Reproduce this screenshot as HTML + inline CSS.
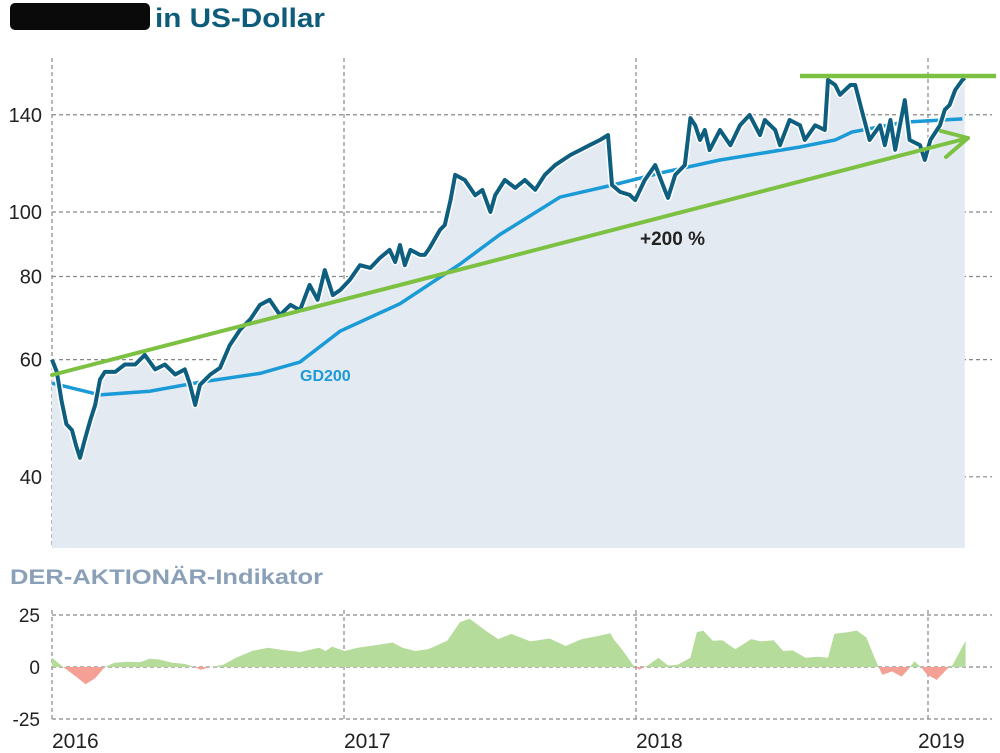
<!DOCTYPE html>
<html><head><meta charset="utf-8"><style>
body{margin:0;background:#fff;width:1000px;height:753px;overflow:hidden;font-family:"Liberation Sans",sans-serif}
svg{display:block}
</style></head><body>
<svg id="c" width="1000" height="753" viewBox="0 0 1000 753">
<rect x="10" y="3" width="140" height="27" rx="5" fill="#0a0a0a"/>
<text x="155" y="27" font-size="27" font-weight="bold" fill="#0d5d7a" textLength="170" lengthAdjust="spacingAndGlyphs">in US-Dollar</text>
<text x="10" y="584" font-size="21" font-weight="bold" fill="#8aa0b8" textLength="313" lengthAdjust="spacingAndGlyphs">DER-AKTIONÄR-Indikator</text>
<g id="g"></g>
</svg>
<script>
// days since 2016-01-01
const priceDays=[0,6,12,18,25,30,35,41,48,54,60,66,79,91,104,116,129,141,154,166,172,179,185,198,210,222,235,248,260,272,285,298,310,322,332,341,351,360,372,385,398,410,422,429,435,441,448,460,466,472,485,491,498,504,516,529,538,548,554,566,579,591,604,616,629,648,660,672,685,695,700,710,722,729,741,754,766,770,779,791,798,804,810,816,822,835,848,860,872,885,891,904,910,922,935,941,954,966,970,979,985,998,1004,1012,1022,1035,1041,1048,1054,1066,1072,1085,1091,1098,1110,1116,1122,1129,1138,1141];
const priceValues=[60,57.5,52,48,47,44.6,42.7,45.5,48.7,51.3,56,57.5,57.5,59,59,61,58,59,57,58,55.3,51.3,55,57,58.3,63,66.5,69,72.5,73.8,70,72.5,71.2,77.7,73.8,81.8,75,76.3,79,83.2,82.4,85.3,87.7,84.1,89.2,83.2,87.7,86.2,86.2,88.3,94,95.6,104,113.7,111.7,106,107.9,100,106,111.7,108.7,111.7,108,113.7,117.6,121.8,123.9,126,128.3,130.5,109.8,107.2,106.1,104.2,111.7,117.6,107.9,105,113.7,117.6,138.4,135,128.3,132.8,123.9,132.8,126,135,139.9,130.5,137.5,132.8,126,137.5,135,128.3,135,132.8,157.9,155.2,150,155.2,155.2,142.4,128.3,135,126,137.5,124,147.3,128.3,126,119.7,128.3,135,142.4,144.8,152.5,157.9,159];
const gdDays=[0,60,122,185,260,310,360,435,510,560,635,701,760,835,935,979,1000,1066,1138];
const gdValues=[55.3,53.1,53.8,55.5,57.2,59.5,66.2,72.8,83.5,92.5,105.3,109.8,114.4,119.7,125.2,128.3,131.9,136.5,138];
const indDays=[0,14,30,42,54,66,78,94,110,122,134,150,166,178,186,198,214,230,250,270,286,310,334,342,350,366,382,414,426,438,454,470,494,510,522,542,558,574,598,622,642,662,678,698,702,714,726,734,746,758,770,782,798,806,814,826,838,854,874,886,902,914,926,942,958,970,978,994,1006,1018,1030,1038,1050,1062,1070,1078,1086,1094,1106,1118,1126,1142];
const indValues=[4.4,0,-4.6,-8.3,-5.4,0,2,2.5,2.3,4,3.6,2,1.5,0,-1.3,0,1.1,4.4,7.7,9.3,8.3,7.2,9.3,7.7,9.8,7.7,9.3,11,11.8,9.3,7.7,8.5,12.6,21.6,23.2,17.5,13.4,15.9,12.3,13.7,10.1,13.4,14.5,16.2,13.4,7.7,1.1,-1.3,1.1,4.4,0.7,1.1,4.4,16.7,17.5,12.6,12.9,8.5,13.4,12.3,12.9,7.7,8,4.4,4.9,4.4,15.9,16.7,17.5,14.2,2.8,-3.8,-2.1,-4.6,-1.3,2.8,0,-3.8,-6.2,-1.3,1.1,12.6];
const priceTicks=[40,60,80,100,140];
const indTicks=[25,0,-25];
const yearLabels=["2016","2017","2018","2019"];

const NS="http://www.w3.org/2000/svg";
const g=document.getElementById('g');
const X=d=>52+d*0.8;
const Y=v=>212-289*Math.log(v/100);
const YI=v=>667-v*2.08;
function mk(t,a,p){const e=document.createElementNS(NS,t);for(const k in a)e.setAttribute(k,a[k]);(p||g).appendChild(e);return e;}
priceTicks.forEach(v=>{
 const l=mk('line',{x1:52,x2:992,y1:Y(v),y2:Y(v),stroke:'#888','stroke-width':1.2,'stroke-dasharray':'4 3'});
 
 
 const t=mk('text',{x:42,y:Y(v)+7,'font-size':20,'text-anchor':'end',fill:'#222'});t.textContent=v;
 
 
});
yearLabels.forEach((s,i)=>{
 const x=X(i*365);
 const l=mk('line',{x1:x,x2:x,y1:58,y2:548,stroke:'#888','stroke-width':1.2,'stroke-dasharray':'4 3'});
 
 
 const l2=mk('line',{x1:x,x2:x,y1:610,y2:720,stroke:'#888','stroke-width':1.2,'stroke-dasharray':'4 3'});
 
 
 const t=mk('text',{x:x+(i==3?-10:0),y:748,'font-size':21,fill:'#222','font-family':"'Liberation Sans Narrow','Liberation Sans',sans-serif"});t.textContent=s;
 
 
});
let pd=priceDays.map((d,i)=>(i?'L':'M')+X(d).toFixed(1)+','+Y(priceValues[i]).toFixed(1)).join('');
const area=mk('path',{d:pd+'L'+X(priceDays[priceDays.length-1])+',548L52,548Z',fill:'#e4eaf2'});


const gd=mk('path',{d:gdDays.map((d,i)=>(i?'L':'M')+X(d).toFixed(1)+','+Y(gdValues[i]).toFixed(1)).join(''),fill:'none',stroke:'#1a9ad6','stroke-width':3.5});


const halo=mk('path',{d:pd,fill:'none',stroke:'#fff','stroke-width':7,'stroke-linejoin':'round'});


const pl=mk('path',{d:pd,fill:'none',stroke:'#0e5f7f','stroke-width':4,'stroke-linejoin':'round'});


const tr=mk('path',{d:'M52,375L968,138M941,131L968,138L946,157',fill:'none',stroke:'#7dc142','stroke-width':4,'stroke-linecap':'round','stroke-linejoin':'round'});


const hl=mk('line',{x1:800,x2:996,y1:76,y2:76,stroke:'#7dc142','stroke-width':4.5});


const t1=mk('text',{x:640,y:245,'font-size':19,'font-weight':'bold',fill:'#222'});t1.textContent='+200 %';


const t2=mk('text',{x:300,y:381,'font-size':16,'font-weight':'bold',fill:'#1a9ad6'});t2.textContent='GD200';


indTicks.forEach(v=>{
 const l=mk('line',{x1:52,x2:992,y1:YI(v),y2:YI(v),stroke:'#888','stroke-width':1.2,'stroke-dasharray':'4 3'});
 
 
 const t=mk('text',{x:40,y:YI(v)+7,'font-size':19,'text-anchor':'end',fill:'#222'});t.textContent=v;
 
 
});
const defs=mk('defs',{});
const c1=mk('clipPath',{id:'up'},defs);mk('rect',{x:0,y:0,width:1000,height:667},c1);
const c2=mk('clipPath',{id:'dn'},defs);mk('rect',{x:0,y:667,width:1000,height:100},c2);
const idd=indDays.map((d,i)=>(i?'L':'M')+X(d).toFixed(1)+','+YI(indValues[i]).toFixed(1)).join('')+'L'+X(indDays[indDays.length-1])+',667L52,667Z';
const ig=mk('path',{d:idd,fill:'#b5dc9a','clip-path':'url(#up)'});


const ir=mk('path',{d:idd,fill:'#f4a094','clip-path':'url(#dn)'});


</script>
</body></html>
